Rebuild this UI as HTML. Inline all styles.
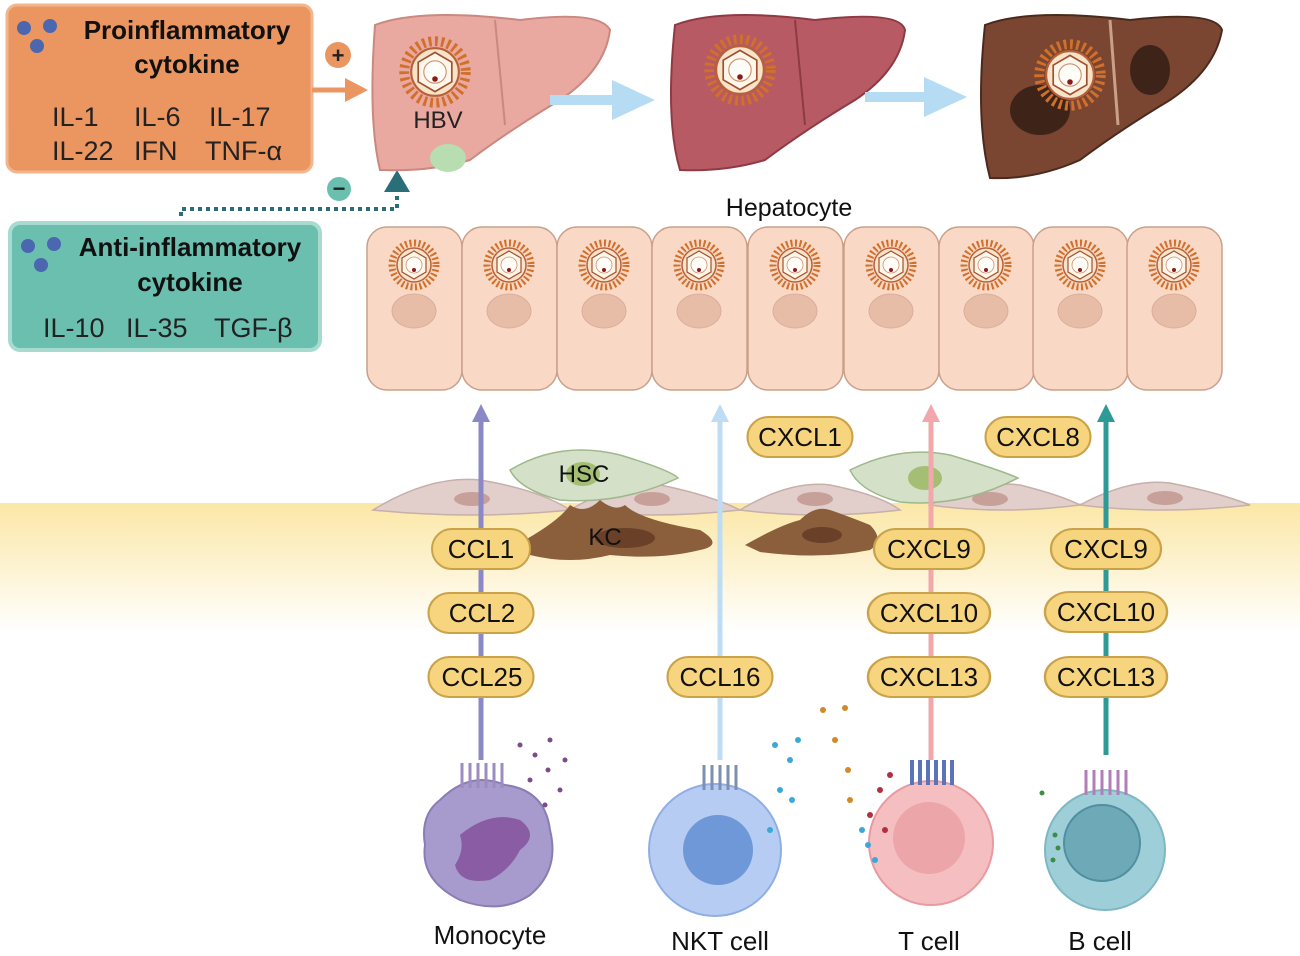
<!DOCTYPE html>
<html><head><meta charset="utf-8"><style>
html,body{margin:0;padding:0;background:#fff}
svg{display:block}
text{font-family:"Liberation Sans",sans-serif}
</style></head><body>
<svg width="1300" height="956" viewBox="0 0 1300 956" xmlns="http://www.w3.org/2000/svg">
<defs>
<linearGradient id="band" x1="0" y1="0" x2="0" y2="1">
<stop offset="0" stop-color="#FBE7A6"/><stop offset="1" stop-color="#FFFFFF"/>
</linearGradient>
<g id="virus">
<circle r="22" fill="none" stroke="#D0702A" stroke-width="7" stroke-dasharray="2 2.5"/>
<circle r="17" fill="#F7E3C8" stroke="#B8603A" stroke-width="1.5"/>
<polygon points="0,-14 12,-7 12,7 0,14 -12,7 -12,-7" fill="#FFF6EA" stroke="#A05030" stroke-width="1.2"/>
<circle r="8" fill="#FFFDF8" stroke="#D09070" stroke-width="0.8"/>
<circle cx="0" cy="5" r="2" fill="#8B1A1A"/>
</g>
<g id="hep">
<rect x="0" y="0" width="95" height="163" rx="20" fill="#FAD8C6" stroke="#C9A08A" stroke-width="1.5"/>
<ellipse cx="47" cy="84" rx="22" ry="17" fill="#E8BDA8" stroke="#D9AE9A"/>
<use href="#virus" x="47" y="38"/>
</g>
<g id="pill"><rect x="-50" y="-20" width="100" height="40" rx="20" fill="#F6D57E" stroke="#C9A24A" stroke-width="2"/></g>
</defs>

<!-- band -->
<rect x="0" y="503" width="1300" height="130" fill="url(#band)"/>

<!-- orange box -->
<rect x="7" y="5" width="305" height="167" rx="10" fill="#EB9560" stroke="#F2B58E" stroke-width="3"/>
<circle cx="24" cy="28" r="7" fill="#4A67B0"/><circle cx="50" cy="26" r="7" fill="#4A67B0"/><circle cx="37" cy="46" r="7" fill="#4A67B0"/>
<text x="187" y="39" font-size="26" font-weight="bold" text-anchor="middle" fill="#111">Proinflammatory</text>
<text x="187" y="73" font-size="26" font-weight="bold" text-anchor="middle" fill="#111">cytokine</text>
<text x="52" y="126" font-size="27" fill="#222">IL-1</text>
<text x="134" y="126" font-size="27" fill="#222">IL-6</text>
<text x="209" y="126" font-size="27" fill="#222">IL-17</text>
<text x="52" y="160" font-size="27" fill="#222">IL-22</text>
<text x="134" y="160" font-size="27" fill="#222">IFN</text>
<text x="205" y="160" font-size="27" fill="#222">TNF-α</text>

<!-- plus and arrow -->
<circle cx="338" cy="55" r="13" fill="#EB9560"/>
<text x="338" y="63" font-size="22" font-weight="bold" text-anchor="middle" fill="#222">+</text>
<line x1="312" y1="90" x2="348" y2="90" stroke="#EB9560" stroke-width="5"/>
<polygon points="345,78 368,90 345,102" fill="#EB9560"/>

<!-- teal box -->
<rect x="10" y="223" width="310" height="127" rx="10" fill="#6BBFAF" stroke="#A8DBD0" stroke-width="4"/>
<circle cx="28" cy="246" r="7" fill="#4A67B0"/><circle cx="54" cy="244" r="7" fill="#4A67B0"/><circle cx="41" cy="265" r="7" fill="#4A67B0"/>
<text x="190" y="256" font-size="26" font-weight="bold" text-anchor="middle" fill="#111">Anti-inflammatory</text>
<text x="190" y="291" font-size="26" font-weight="bold" text-anchor="middle" fill="#111">cytokine</text>
<text x="43" y="337" font-size="27" fill="#222">IL-10</text>
<text x="126" y="337" font-size="27" fill="#222">IL-35</text>
<text x="214" y="337" font-size="27" fill="#222">TGF-β</text>

<!-- minus dotted -->
<polyline points="181,216 181,209 397,209 397,190" fill="none" stroke="#2A6E78" stroke-width="4" stroke-dasharray="4 4"/>
<polygon points="384,192 397,170 410,192" fill="#2A6E78"/>
<circle cx="339" cy="189" r="12" fill="#6BBFAF"/>
<text x="339" y="196" font-size="22" font-weight="bold" text-anchor="middle" fill="#222">−</text>

<!-- livers -->
<path d="M375,25 Q420,8 520,20 Q600,10 610,30 Q605,70 560,100 Q510,130 470,160 Q430,172 380,170 Q368,120 375,25Z" fill="#E9A8A0" stroke="#C98880" stroke-width="2"/>
<ellipse cx="448" cy="158" rx="18" ry="14" fill="#B8DDB0"/>
<line x1="495" y1="20" x2="505" y2="125" stroke="#C98880" stroke-width="2"/>
<use href="#virus" x="435" y="72" transform="translate(435 72) scale(1.4) translate(-435 -72)"/>
<text x="438" y="128" font-size="24" fill="#222" text-anchor="middle">HBV</text>

<path d="M675,25 Q720,8 815,20 Q900,10 905,30 Q900,70 855,100 Q805,130 765,160 Q725,172 680,170 Q665,120 675,25Z" fill="#B85A63" stroke="#8E3A45" stroke-width="2"/>
<line x1="795" y1="20" x2="805" y2="125" stroke="#8E3A45" stroke-width="2"/>
<use href="#virus" x="740" y="70" transform="translate(740 70) scale(1.4) translate(-740 -70)"/>

<path d="M985,25 Q1030,8 1130,20 Q1215,10 1222,30 Q1215,70 1170,100 Q1120,130 1080,160 Q1035,180 990,178 Q975,120 985,25Z" fill="#7A4632" stroke="#4A2A1E" stroke-width="2"/>
<ellipse cx="1040" cy="110" rx="30" ry="25" fill="#3E2418"/>
<ellipse cx="1150" cy="70" rx="20" ry="25" fill="#3E2418"/>
<line x1="1110" y1="20" x2="1118" y2="125" stroke="#C9A08A" stroke-width="3"/>
<use href="#virus" x="1070" y="75" transform="translate(1070 75) scale(1.4) translate(-1070 -75)"/>

<!-- blue arrows -->
<line x1="550" y1="100" x2="620" y2="100" stroke="#B5DCF2" stroke-width="10"/>
<polygon points="612,80 655,100 612,120" fill="#B5DCF2"/>
<line x1="865" y1="97" x2="930" y2="97" stroke="#B5DCF2" stroke-width="10"/>
<polygon points="924,77 967,97 924,117" fill="#B5DCF2"/>

<text x="789" y="216" font-size="25" text-anchor="middle" fill="#111">Hepatocyte</text>

<!-- hepatocytes -->
<use href="#hep" x="367" y="227"/><use href="#hep" x="462" y="227"/><use href="#hep" x="557" y="227"/>
<use href="#hep" x="652" y="227"/><use href="#hep" x="748" y="227"/><use href="#hep" x="844" y="227"/>
<use href="#hep" x="939" y="227"/><use href="#hep" x="1033" y="227"/><use href="#hep" x="1127" y="227"/>

<!-- endothelial cells -->
<g fill="#E2CFCB" stroke="#C7AFAA" stroke-width="1.5">
<path d="M373,510 Q430,475 480,480 Q540,490 570,510 Q470,520 373,510Z"/>
<path d="M570,510 Q620,480 660,485 Q710,495 740,510 Q650,520 570,510Z"/>
<path d="M740,510 Q790,480 830,485 Q880,495 900,510 Q820,520 740,510Z"/>
<path d="M930,505 Q980,480 1020,485 Q1060,495 1080,505 Q1000,515 930,505Z"/>
<path d="M1080,505 Q1130,478 1170,483 Q1220,493 1250,505 Q1160,515 1080,505Z"/>
</g>
<g fill="#C8A09A"><ellipse cx="472" cy="499" rx="18" ry="7"/><ellipse cx="652" cy="499" rx="18" ry="7"/><ellipse cx="815" cy="499" rx="18" ry="7"/><ellipse cx="990" cy="499" rx="18" ry="7"/><ellipse cx="1165" cy="498" rx="18" ry="7"/></g>
<!-- HSC -->
<path d="M510,470 Q560,440 620,455 Q670,470 678,478 Q620,505 560,500 Q520,490 510,470Z" fill="#D4E0C8" stroke="#9DB88A" stroke-width="1.5"/>
<ellipse cx="583" cy="474" rx="17" ry="12" fill="#A4BE74"/>
<text x="584" y="482" font-size="24" text-anchor="middle" fill="#111">HSC</text>
<path d="M850,470 Q900,445 950,455 Q1000,470 1018,478 Q960,508 900,502 Q860,492 850,470Z" fill="#D4E0C8" stroke="#9DB88A" stroke-width="1.5"/>
<ellipse cx="925" cy="478" rx="17" ry="12" fill="#A4BE74"/>
<!-- KC -->
<path d="M525,540 Q560,520 570,505 Q585,515 600,500 Q615,512 625,505 Q640,520 700,530 Q725,545 700,550 Q660,560 610,555 Q570,565 530,555Z" fill="#8B5E3C"/>
<ellipse cx="625" cy="538" rx="30" ry="10" fill="#6B4028"/>
<text x="605" y="545" font-size="24" text-anchor="middle" fill="#111">KC</text>
<path d="M745,545 Q780,525 800,520 Q815,505 830,510 Q845,515 870,525 Q885,540 870,550 Q820,560 760,552Z" fill="#8B5E3C"/>
<ellipse cx="822" cy="535" rx="20" ry="8" fill="#6B4028"/>

<!-- vertical arrows -->
<line x1="481" y1="760" x2="481" y2="420" stroke="#8B88C6" stroke-width="5"/>
<polygon points="472,422 481,404 490,422" fill="#8B88C6"/>
<line x1="720" y1="760" x2="720" y2="420" stroke="#BEDDF4" stroke-width="5"/>
<polygon points="711,422 720,404 729,422" fill="#BEDDF4"/>
<line x1="931" y1="760" x2="931" y2="420" stroke="#F0A8AA" stroke-width="5"/>
<polygon points="922,422 931,404 940,422" fill="#F0A8AA"/>
<line x1="1106" y1="755" x2="1106" y2="420" stroke="#2E9A98" stroke-width="5"/>
<polygon points="1097,422 1106,404 1115,422" fill="#2E9A98"/>

<!-- pills -->
<g font-size="26" text-anchor="middle" fill="#111">
<use href="#pill" transform="translate(800 437) scale(1.05 1)"/><text x="800" y="446">CXCL1</text>
<use href="#pill" transform="translate(1038 437) scale(1.05 1)"/><text x="1038" y="446">CXCL8</text>
<use href="#pill" transform="translate(481 549) scale(0.98 1)"/><text x="481" y="558">CCL1</text>
<use href="#pill" transform="translate(481 613) scale(1.05 1)"/><text x="482" y="622">CCL2</text>
<use href="#pill" transform="translate(481 677) scale(1.05 1)"/><text x="482" y="686">CCL25</text>
<use href="#pill" transform="translate(720 677) scale(1.05 1)"/><text x="720" y="686">CCL16</text>
<use href="#pill" transform="translate(929 549) scale(1.1 1)"/><text x="929" y="558">CXCL9</text>
<use href="#pill" transform="translate(929 613) scale(1.22 1)"/><text x="929" y="622">CXCL10</text>
<use href="#pill" transform="translate(929 677) scale(1.22 1)"/><text x="929" y="686">CXCL13</text>
<use href="#pill" transform="translate(1106 549) scale(1.1 1)"/><text x="1106" y="558">CXCL9</text>
<use href="#pill" transform="translate(1106 612) scale(1.22 1)"/><text x="1106" y="621">CXCL10</text>
<use href="#pill" transform="translate(1106 677) scale(1.22 1)"/><text x="1106" y="686">CXCL13</text>
</g>

<!-- monocyte -->
<path d="M440,800 Q470,770 505,785 Q545,790 550,830 Q560,870 530,895 Q500,915 460,900 Q420,880 425,845 Q420,815 440,800Z" fill="#A79ACC" stroke="#8A7DB5" stroke-width="2"/>
<path d="M460,835 Q490,810 520,820 Q540,835 520,850 Q510,870 490,880 Q460,885 455,865 Q465,850 460,835Z" fill="#8A5CA3"/>
<g stroke="#9C8CC0" stroke-width="3" fill="none"><path d="M462,788 v-25 M470,788 v-25 M478,788 v-25 M486,788 v-25 M494,788 v-25 M502,788 v-25"/></g>
<g fill="#7B4B8C"><circle cx="520" cy="745" r="2.5"/><circle cx="535" cy="755" r="2.5"/><circle cx="548" cy="770" r="2.5"/><circle cx="560" cy="790" r="2.5"/><circle cx="545" cy="805" r="2.5"/><circle cx="565" cy="760" r="2.5"/><circle cx="530" cy="780" r="2.5"/><circle cx="550" cy="740" r="2.5"/></g>
<text x="490" y="944" font-size="26" text-anchor="middle" fill="#111">Monocyte</text>

<!-- NKT -->
<circle cx="715" cy="850" r="66" fill="#B7CCF2" stroke="#8FAEE6" stroke-width="2"/>
<circle cx="718" cy="850" r="35" fill="#6E98D8"/>
<g stroke="#7E8FB0" stroke-width="3" fill="none"><path d="M704,790 v-25 M712,790 v-25 M720,790 v-25 M728,790 v-25 M736,790 v-25"/></g>
<g fill="#3BA8D8"><circle cx="775" cy="745" r="3"/><circle cx="790" cy="760" r="3"/><circle cx="798" cy="740" r="3"/><circle cx="780" cy="790" r="3"/><circle cx="770" cy="830" r="3"/><circle cx="792" cy="800" r="3"/></g>
<text x="720" y="950" font-size="26" text-anchor="middle" fill="#111">NKT cell</text>

<!-- T cell -->
<circle cx="931" cy="843" r="62" fill="#F5BFC2" stroke="#E99AA0" stroke-width="2"/>
<circle cx="929" cy="838" r="36" fill="#ECA5A8"/>
<g stroke="#5B73B8" stroke-width="4" fill="none"><path d="M912,785 v-25 M920,785 v-25 M928,785 v-25 M936,785 v-25 M944,785 v-25 M952,785 v-25"/></g>
<g fill="#D08A28"><circle cx="823" cy="710" r="3"/><circle cx="845" cy="708" r="3"/><circle cx="835" cy="740" r="3"/><circle cx="848" cy="770" r="3"/><circle cx="850" cy="800" r="3"/></g>
<g fill="#B03040"><circle cx="880" cy="790" r="3"/><circle cx="870" cy="815" r="3"/><circle cx="885" cy="830" r="3"/><circle cx="890" cy="775" r="3"/></g>
<g fill="#3BA8D8"><circle cx="868" cy="845" r="3"/><circle cx="875" cy="860" r="3"/><circle cx="862" cy="830" r="3"/></g>
<text x="929" y="950" font-size="26" text-anchor="middle" fill="#111">T cell</text>

<!-- B cell -->
<circle cx="1105" cy="850" r="60" fill="#9ECFD8" stroke="#7EB8C4" stroke-width="2"/>
<circle cx="1102" cy="843" r="38" fill="#6EA9B8" stroke="#4F8FA0" stroke-width="2"/>
<g stroke="#B27EB8" stroke-width="3" fill="none"><path d="M1086,795 v-25 M1094,795 v-25 M1102,795 v-25 M1110,795 v-25 M1118,795 v-25 M1126,795 v-25"/></g>
<g fill="#3E8C48"><circle cx="1042" cy="793" r="2.5"/><circle cx="1055" cy="835" r="2.5"/><circle cx="1058" cy="848" r="2.5"/><circle cx="1053" cy="860" r="2.5"/></g>
<text x="1100" y="950" font-size="26" text-anchor="middle" fill="#111">B cell</text>
</svg>
</body></html>
